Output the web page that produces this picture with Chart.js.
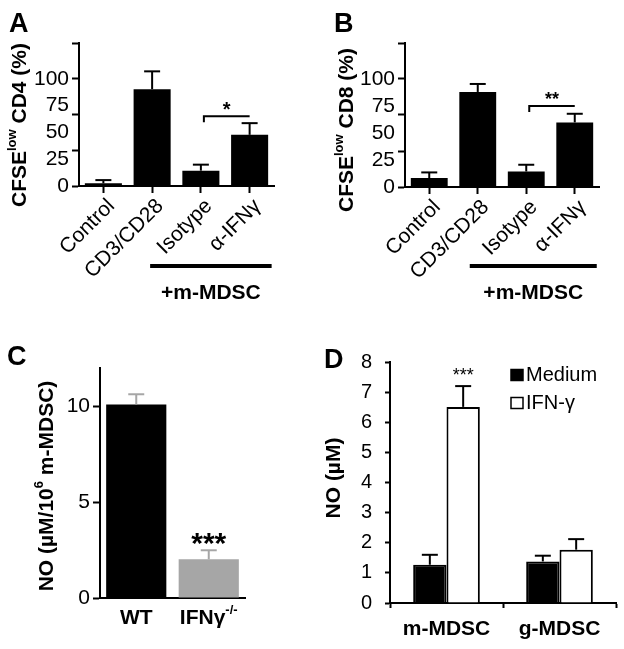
<!DOCTYPE html>
<html>
<head>
<meta charset="utf-8">
<script src="https://cdn.jsdelivr.net/npm/chart.js@4.4.0/dist/chart.umd.min.js"></script>
<style>
html, body { margin: 0; padding: 0; background: #fff; }
#wrap { position: relative; width: 624px; height: 649px; }
canvas { position: absolute; }
</style>
</head>
<body>
<div id="wrap">
  <canvas id="cA" width="312" height="320" style="left:0;top:0;width:312px;height:320px"></canvas>
  <canvas id="cB" width="312" height="320" style="left:312px;top:0;width:312px;height:320px"></canvas>
  <canvas id="cC" width="312" height="329" style="left:0;top:320px;width:312px;height:329px"></canvas>
  <canvas id="cD" width="312" height="329" style="left:312px;top:320px;width:312px;height:329px"></canvas>
</div>
<script>
var FONT = "'Liberation Sans', Arial, Helvetica, sans-serif";

// panels A and B
var catsAB = ["Control", "CD3/CD28", "Isotype", "α-IFNγ"];
var cd4Mean = [2.5, 90.3, 14.3, 47.7];
var cd4Err = [3, 16.6, 5.6, 10.9];
var cd8Mean = [8.3, 88, 14.4, 59.8];
var cd8Err = [5.2, 7.4, 6.2, 8];
var ticksAB = [0, 25, 50, 75, 100];
var marksAB = [0, 33.33, 66.67, 100, 133.33];

// panel C
var catsC = ["WT", "IFNγ"];
var supC = ["", "-/-"];
var noMean = [10.1, 2.02];
var noErr = [0.53, 0.47];
var ticksC = [0, 5, 10];

// panel D
var catsD = ["m-MDSC", "g-MDSC"];
var seriesD = ["Medium", "IFN-γ"];
var mediumMean = [1.27, 1.38];
var mediumErr = [0.33, 0.19];
var ifnMean = [6.51, 1.77];
var ifnErr = [0.69, 0.35];
var ticksD = [0, 1, 2, 3, 4, 5, 6, 7, 8];

function fixW(w) {
  return function (s) { s.width = w; s.paddingTop = 0; s.paddingBottom = 0; };
}
function fixH(h) {
  return function (s) { s.height = h; s.paddingLeft = 0; s.paddingRight = 0; };
}
function setTicks(list) {
  return function (s) { s.ticks = list.map(function (v) { return { value: v }; }); };
}
function font(size, bold) {
  return (bold ? "bold " : "") + size + "px " + FONT;
}

// text with superscript parts, centred on x,y
function richText(ctx, x, y, parts, size, bold, rot) {
  var w = 0;
  parts.forEach(function (p) {
    ctx.font = font(p[1] ? size * 0.62 : size, bold);
    w += ctx.measureText(p[0]).width;
  });
  ctx.save();
  ctx.translate(x, y);
  if (rot) ctx.rotate(rot);
  ctx.fillStyle = "#000";
  ctx.textBaseline = "middle";
  ctx.textAlign = "left";
  var cx = -w / 2;
  parts.forEach(function (p) {
    ctx.font = font(p[1] ? size * 0.62 : size, bold);
    ctx.fillText(p[0], cx, p[1] ? -size * 0.36 : 0);
    cx += ctx.measureText(p[0]).width;
  });
  ctx.restore();
}
function text(ctx, s, x, y, size, bold, color) {
  ctx.save();
  ctx.font = font(size, bold);
  ctx.fillStyle = color || "#000";
  ctx.textAlign = "center";
  ctx.textBaseline = "middle";
  ctx.fillText(s, x, y);
  ctx.restore();
}
function stars(ctx, s, x, y, size, bold) {
  // asterisks sit high in the em box, shift so the glyph centre is at y
  text(ctx, s, x, y + size * 0.23, size, bold);
}
function letter(ctx, s, x, y) {
  ctx.save();
  ctx.font = font(27, true);
  ctx.fillStyle = "#000";
  ctx.textAlign = "left";
  ctx.textBaseline = "alphabetic";
  ctx.fillText(s, x, y);
  ctx.restore();
}
function line(ctx, pts, w, color) {
  ctx.save();
  ctx.strokeStyle = color || "#000";
  ctx.lineWidth = w;
  ctx.beginPath();
  ctx.moveTo(pts[0][0], pts[0][1]);
  for (var i = 1; i < pts.length; i++) ctx.lineTo(pts[i][0], pts[i][1]);
  ctx.stroke();
  ctx.restore();
}

var errorBars = {
  id: "errorBars",
  afterDatasetsDraw: function (chart) {
    var ctx = chart.ctx;
    var y = chart.scales.y;
    chart.data.datasets.forEach(function (ds, di) {
      if (!ds.errors) return;
      var meta = chart.getDatasetMeta(di);
      meta.data.forEach(function (bar, i) {
        var top = y.getPixelForValue(ds.data[i] + ds.errors[i]);
        var c = ds.errColor || "#000";
        line(ctx, [[bar.x, bar.y], [bar.x, top]], 2, c);
        line(ctx, [[bar.x - 8, top], [bar.x + 8, top]], 2, c);
      });
    });
  }
};

function panelAB(id, means, errs, cfg) {
  var deco = {
    id: "deco" + id,
    afterDraw: function (chart) {
      var ctx = chart.ctx;
      var x = chart.scales.x;
      var y = chart.scales.y;
      letter(ctx, cfg.letter, cfg.letterX, 32);
      richText(ctx, cfg.titleX, cfg.titleY, [["CFSE", 0], ["low", 1], [" " + cfg.cd + " (%)", 0]], 21, true, -Math.PI / 2);
      // significance bracket between Isotype and α-IFNγ
      var bx1 = x.getPixelForValue(2) + 3;
      var bx2 = x.getPixelForValue(3);
      var by = y.getPixelForValue(cfg.brVal);
      line(ctx, [[bx1, by + 6], [bx1, by], [bx2, by]], 2);
      stars(ctx, cfg.sig, (bx1 + bx2) / 2, by - 10, cfg.sigSize, true);
      // group line and label
      var lx1 = x.getPixelForValue(1) + cfg.lineL;
      var lx2 = x.getPixelForValue(3) + 22;
      line(ctx, [[lx1, 266], [lx2, 266]], 4);
      text(ctx, "+m-MDSC", (lx1 + lx2) / 2, 293, 21, true);
    }
  };
  return new Chart(document.getElementById(id), {
    type: "bar",
    data: {
      labels: catsAB,
      datasets: [{
        data: means, errors: errs, backgroundColor: "#000",
        barPercentage: 0.76, categoryPercentage: 1, yAxisID: "y"
      }]
    },
    options: {
      responsive: false,
      animation: false,
      layout: { padding: { top: 43, right: cfg.right, left: 0, bottom: 0 } },
      plugins: { legend: { display: false }, tooltip: { enabled: false } },
      scales: {
        x: {
          grid: { drawOnChartArea: false, offset: false, tickLength: 7, tickWidth: 2, tickColor: "#000" },
          border: { color: "#000", width: 2 },
          ticks: {
            color: "#000", font: { family: FONT, size: 21 }, minRotation: 45, maxRotation: 45,
            autoSkip: false, padding: 1, labelOffset: 8
          },
          afterFit: fixH(cfg.xh)
        },
        y: {
          min: 0, max: 133.33, weight: 1,
          grid: { display: false, drawTicks: false },
          border: { display: false },
          ticks: { color: "#000", font: { family: FONT, size: 21 }, padding: 10 },
          afterBuildTicks: setTicks(ticksAB),
          afterFit: fixW(cfg.left)
        },
        yt: {
          position: "left", min: 0, max: 133.33, weight: 0,
          grid: { drawOnChartArea: false, tickLength: 7, tickWidth: 2, tickColor: "#000" },
          border: { color: "#000", width: 2 },
          ticks: { display: false },
          afterBuildTicks: setTicks(marksAB),
          afterFit: fixW(0)
        }
      }
    },
    plugins: [errorBars, deco]
  });
}

panelAB("cA", cd4Mean, cd4Err, {
  letter: "A", letterX: 9, titleX: 20, titleY: 125, cd: "CD4",
  right: 38, left: 79, xh: 134, brVal: 65, sig: "*", sigSize: 20, lineL: -2
});
panelAB("cB", cd8Mean, cd8Err, {
  letter: "B", letterX: 22, titleX: 35, titleY: 130, cd: "CD8",
  right: 25, left: 93, xh: 133, brVal: 75, sig: "**", sigSize: 18, lineL: -8
});

// panel C
var decoC = {
  id: "decoC",
  afterDraw: function (chart) {
    var ctx = chart.ctx;
    var x = chart.scales.x;
    var y = chart.scales.y;
    letter(ctx, "C", 7, 45);
    richText(ctx, 47, 166, [["NO (µM/10", 0], ["6", 1], [" m-MDSC)", 0]], 21, true, -Math.PI / 2);
    for (var i = 0; i < catsC.length; i++) {
      richText(ctx, x.getPixelForValue(i), 298, [[catsC[i], 0], [supC[i], 1]], 21, true, 0);
    }
    var top = y.getPixelForValue(noMean[1] + noErr[1]);
    stars(ctx, "***", x.getPixelForValue(1), top - 12, 30, true);
  }
};
new Chart(document.getElementById("cC"), {
  type: "bar",
  data: {
    labels: catsC,
    datasets: [{
      data: noMean, errors: noErr, errColor: "#a6a6a6",
      backgroundColor: ["#000000", "#a6a6a6"],
      barPercentage: 0.83, categoryPercentage: 1
    }]
  },
  options: {
    responsive: false,
    animation: false,
    layout: { padding: { top: 48, right: 67, left: 0, bottom: 0 } },
    plugins: { legend: { display: false }, tooltip: { enabled: false } },
    scales: {
      x: {
        grid: { display: false },
        border: { color: "#000", width: 2 },
        ticks: { display: false },
        afterFit: fixH(51)
      },
      y: {
        min: 0, max: 12,
        grid: { drawOnChartArea: false, tickLength: 7, tickWidth: 2, tickColor: "#000" },
        border: { color: "#000", width: 2 },
        ticks: { color: "#000", font: { family: FONT, size: 21 }, padding: 3 },
        afterBuildTicks: setTicks(ticksC),
        afterFit: fixW(100)
      }
    }
  },
  plugins: [errorBars, decoC]
});

// panel D
var decoD = {
  id: "decoD",
  afterDraw: function (chart) {
    var ctx = chart.ctx;
    var y = chart.scales.y;
    letter(ctx, "D", 12, 48);
    richText(ctx, 22, 158, [["NO (µM)", 0]], 21, true, -Math.PI / 2);
    var bar = chart.getDatasetMeta(1).data[0];
    var top = y.getPixelForValue(ifnMean[0] + ifnErr[0]);
    stars(ctx, "***", bar.x, top - 14, 18, false);
    // legend
    chart.data.datasets.forEach(function (ds, i) {
      var cy = 55 + i * 28;
      ctx.save();
      ctx.fillStyle = ds.backgroundColor;
      ctx.strokeStyle = "#000";
      ctx.lineWidth = 1.5;
      ctx.fillRect(199, cy - 5.5, 12, 11);
      ctx.strokeRect(199, cy - 5.5, 12, 11);
      ctx.font = font(20, false);
      ctx.fillStyle = "#000";
      ctx.textAlign = "left";
      ctx.textBaseline = "middle";
      ctx.fillText(ds.label, 214, cy);
      ctx.restore();
    });
  }
};
new Chart(document.getElementById("cD"), {
  type: "bar",
  data: {
    labels: catsD,
    datasets: [
      {
        label: seriesD[0], data: mediumMean, errors: mediumErr,
        backgroundColor: "#000000", borderColor: "#000", borderWidth: 2,
        barPercentage: 1, categoryPercentage: 0.59
      },
      {
        label: seriesD[1], data: ifnMean, errors: ifnErr,
        backgroundColor: "#ffffff", borderColor: "#000", borderWidth: 2,
        barPercentage: 1, categoryPercentage: 0.59
      }
    ]
  },
  options: {
    responsive: false,
    animation: false,
    layout: { padding: { top: 42, right: 8, left: 0, bottom: 0 } },
    plugins: { legend: { display: false }, tooltip: { enabled: false } },
    scales: {
      x: {
        grid: { drawOnChartArea: false, offset: true, tickLength: 5, tickWidth: 2, tickColor: "#000" },
        border: { color: "#000", width: 2 },
        ticks: { color: "#000", font: { family: FONT, size: 21, weight: "bold" }, padding: 9, maxRotation: 0 },
        afterFit: fixH(46)
      },
      y: {
        min: 0, max: 8,
        grid: { drawOnChartArea: false, tickLength: 5, tickWidth: 2, tickColor: "#000" },
        border: { color: "#000", width: 2 },
        ticks: { color: "#000", font: { family: FONT, size: 20 }, padding: 13 },
        afterBuildTicks: setTicks(ticksD),
        afterFit: fixW(78)
      }
    }
  },
  plugins: [errorBars, decoD]
});
</script>
</body>
</html>
